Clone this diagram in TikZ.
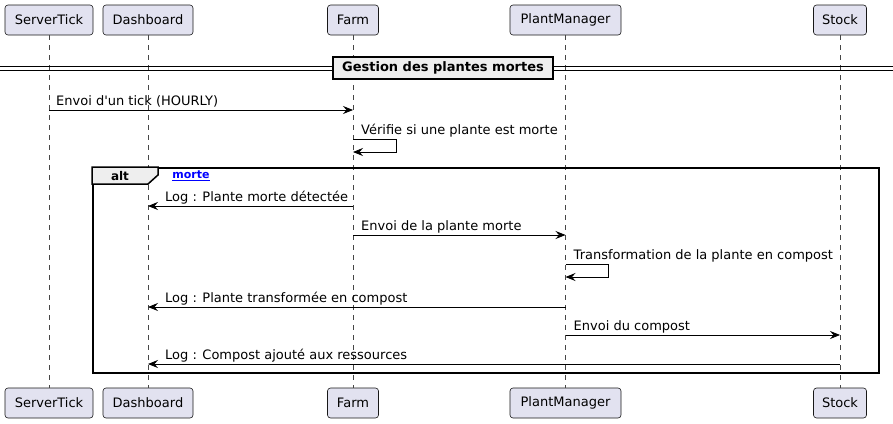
\documentclass[tikz,border=0pt]{standalone}
\usepackage{fontspec}
\setmainfont{DejaVu Sans}
\usetikzlibrary{arrows.meta,positioning,calc}
\definecolor{partfill}{HTML}{E2E2F0}
\definecolor{partdraw}{HTML}{181818}
\definecolor{grpfill}{HTML}{EEEEEE}
\definecolor{guardblue}{HTML}{0000FF}

\tikzset{
  actor/.style={draw=partdraw, fill=partfill, rounded corners=3pt,
                minimum height=30pt, inner sep=0pt, line width=0.6pt,
                font=\fontsize{13}{15}\selectfont},
  life/.style={draw=partdraw!80, line width=0.4pt, dash pattern=on 5pt off 5pt},
  msg/.style={-{Stealth[length=10pt,width=8pt,inset=3.5pt]}, line width=0.8pt},
  lbl/.style={anchor=base west, inner sep=0pt, font=\fontsize{13}{15}\selectfont},
  grp/.style={draw, line width=1.5pt},
}

\begin{document}
\begin{tikzpicture}[x=1pt, y=-1pt]
  \useasboundingbox (0,0) rectangle (893,423);

  % Participants
  \node[actor, minimum width=88pt] (st) at (49,20) {ServerTick};
  \node[actor, minimum width=90pt] (db) at (148,20) {Dashboard};
  \node[actor, minimum width=51pt] (fa) at (353,20) {Farm};
  \node[actor, minimum width=111pt] (pm) at (565.5,20) {PlantManager};
  \node[actor, minimum width=53pt] (sk) at (840,20) {Stock};

  \node[actor, minimum width=88pt] (stB) at (49,403) {ServerTick};
  \node[actor, minimum width=90pt] (dbB) at (148,403) {Dashboard};
  \node[actor, minimum width=51pt] (faB) at (353,403) {Farm};
  \node[actor, minimum width=111pt] (pmB) at (565.5,403) {PlantManager};
  \node[actor, minimum width=53pt] (skB) at (840,403) {Stock};

  % Lifelines
  \foreach \p in {st,db,fa,pm,sk}
    \draw[life] (\p.south) -- (\p B.north);

  % Separator
  \coordinate (sepL) at (0,66);
  \coordinate (sepR) at (893,66);
  \draw[line width=0.9pt] (sepL) -- (sepR);
  \draw[line width=0.9pt] ($(sepL)+(0,4)$) -- ($(sepR)+(0,4)$);
  \node[grp, fill=grpfill, minimum width=220pt, minimum height=22pt, inner sep=0pt,
        font=\fontsize{13}{15}\selectfont\bfseries] (sep) at (443,68) {Gestion des plantes mortes};

  % Rows
  \coordinate (r1) at (0,110);
  \coordinate (r2) at (0,139);
  \coordinate (r3) at (0,206);
  \coordinate (r4) at (0,235);
  \coordinate (r5) at (0,264);
  \coordinate (r6) at (0,307);
  \coordinate (r7) at (0,335);
  \coordinate (r8) at (0,364);

  % Messages before the group
  \draw[msg] (st |- r1) -- (fa |- r1);
  \node[lbl] (t1) at ($(st |- r1)+(7,-5)$) {Envoi d\textquotesingle un tick (HOURLY)};
  \draw[msg] (fa |- r2) -- ++(43,0) -- ++(0,13) -- ++(-43,0);
  \node[lbl] (t2) at ($(fa |- r2)+(8,-5)$) {Vérifie si une plante est morte};

  % alt group
  \node[grp, minimum width=786pt, minimum height=205pt, anchor=north west] (alt) at (92,167) {};
  \draw[grp, fill=grpfill] (alt.north west) -- ++(66,0) -- ++(0,8) -- ++(-10,9)
    -- ++(-56,0) -- cycle;
  \node[font=\fontsize{12}{14}\selectfont\bfseries, inner sep=0pt] (altlbl) at (120,176) {alt};
  \node[font=\fontsize{11}{13}\selectfont\bfseries, text=guardblue, inner sep=0pt]
    (guard) at (191,176) {\underline{morte}};

  \draw[msg] (fa |- r3) -- (db |- r3);
  \node[lbl] (t3) at ($(db |- r3)+(17,-5)$) {Log : Plante morte détectée};
  \draw[msg] (fa |- r4) -- (pm |- r4);
  \node[lbl] (t4) at ($(fa |- r4)+(8,-5)$) {Envoi de la plante morte};
  \draw[msg] (pm |- r5) -- ++(43,0) -- ++(0,13) -- ++(-43,0);
  \node[lbl] (t5) at ($(pm |- r5)+(8,-5)$) {Transformation de la plante en compost};
  \draw[msg] (pm |- r6) -- (db |- r6);
  \node[lbl] (t6) at ($(db |- r6)+(17,-5)$) {Log : Plante transformée en compost};
  \draw[msg] (pm |- r7) -- (sk |- r7);
  \node[lbl] (t7) at ($(pm |- r7)+(8,-5)$) {Envoi du compost};
  \draw[msg] (sk |- r8) -- (db |- r8);
  \node[lbl] (t8) at ($(db |- r8)+(17,-5)$) {Log : Compost ajouté aux ressources};
\end{tikzpicture}
\end{document}
